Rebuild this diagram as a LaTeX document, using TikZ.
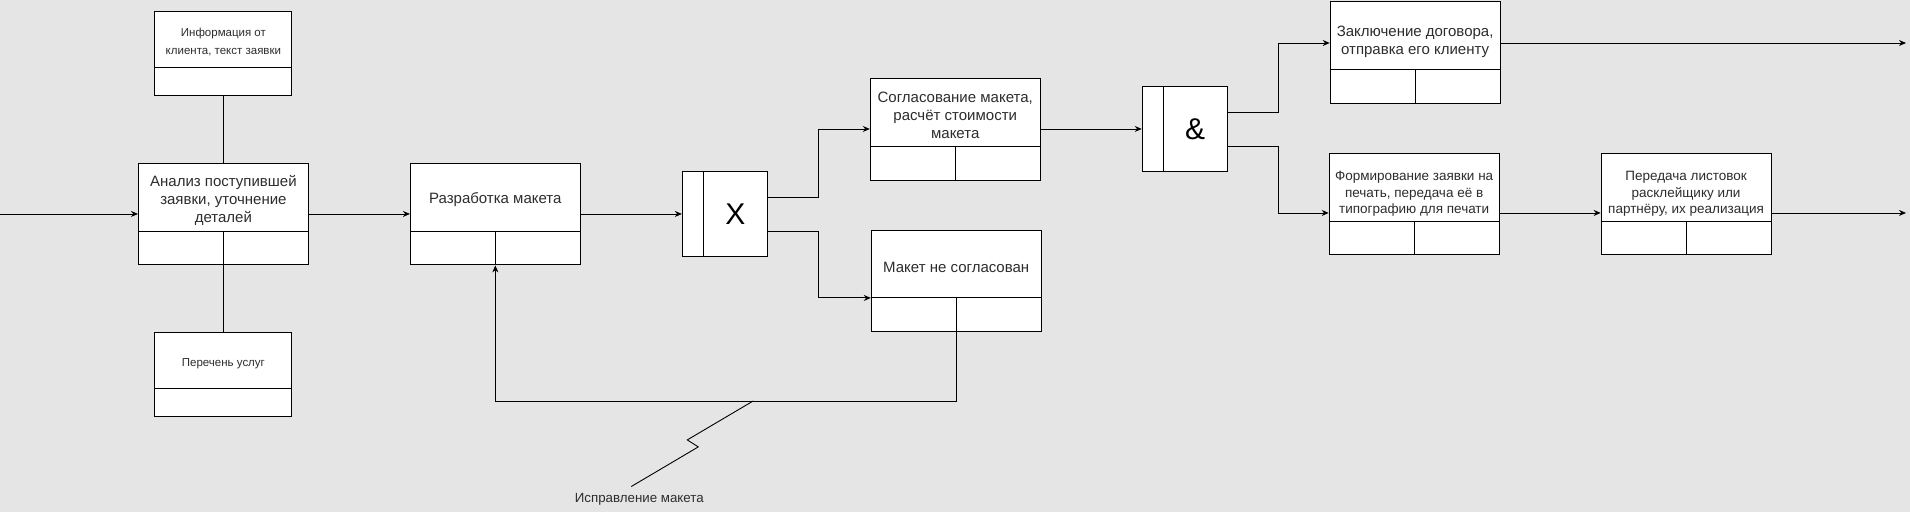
\documentclass[tikz,border=0pt]{standalone}
\usepackage{fontspec}
\setmainfont{Liberation Sans}
\usetikzlibrary{arrows.meta}
\definecolor{fon}{RGB}{229,229,229}
\definecolor{seryj}{RGB}{45,45,45}

\begin{document}
\begin{tikzpicture}[x=1pt,y=-1pt,line width=0.9pt]
\tikzset{blok/.style={draw,fill=white,minimum width=170pt,minimum height=102pt,inner sep=0pt},
  malyj/.style={draw,fill=white,minimum width=137pt,minimum height=84pt,inner sep=0pt},
  nadpis/.style={align=center,inner sep=0pt,text=seryj,font=\fontsize{15}{18}\selectfont},
  krupno/.style={},
  nizhe/.style={yshift=-4pt},
  melko/.style={font=\fontsize{13.5}{16.5}\selectfont,yshift=-4pt},
  vorota/.style={draw,fill=white,minimum width=85pt,minimum height=85pt,inner sep=0pt,font=\fontsize{30}{30}\selectfont,
    path picture={\draw ([xshift=21pt]path picture bounding box.north west) -- ([xshift=21pt]path picture bounding box.south west);}},
  strelka/.style={-{Stealth[length=7pt,width=6pt]}}}
\fill[fon] (0,0) rectangle (1910,512);

\foreach \imya/\x/\y/\stil/\tekst in {
  analiz/223/214/krupno/{Анализ поступившей\\заявки, уточнение\\деталей},
  razrab/495/214/krupno/{Разработка макета},
  sogl/955/129/krupno/{Согласование макета,\\расчёт стоимости\\макета},
  maket/956/281/krupno/{Макет не согласован},
  zakl/1415/52/nizhe/{Заключение договора,\\отправка его клиенту},
  formir/1414/204/melko/{Формирование заявки на\\печать, передача её в\\типографию для печати},
  pered/1686/204/melko/{Передача листовок\\расклейщику или\\партнёру, их реализация}}
{
  \node[blok] (\imya) at (\x,\y) {};
  \node[nadpis,\stil] (\imya-t) at ([yshift=14pt]\imya.center) {\tekst};
  \draw ([yshift=-17pt]\imya.west) -- ([yshift=-17pt]\imya.east)
        ([yshift=-17pt]\imya.center) -- (\imya.south);
}

\node[malyj] (info) at (223,53) {};
\node[nadpis,font=\fontsize{11.5}{18.5}\selectfont] (info-t) at ([yshift=11pt]info.center) {Информация от\\клиента, текст заявки};
\draw ([yshift=-14pt]info.west) -- ([yshift=-14pt]info.east);
\node[malyj] (perech) at (223,375) {};
\node[nadpis,font=\fontsize{11.5}{18.5}\selectfont] (perech-t) at ([yshift=11pt]perech.center) {Перечень услуг};
\draw ([yshift=-14pt]perech.west) -- ([yshift=-14pt]perech.east);

\node[vorota] (xvor) at (724.5,214) {\hspace*{21pt}X};
\node[vorota] (ivor) at (1184.5,129) {\hspace*{21pt}\&};

\coordinate (vhod) at (0,214);
\coordinate (vyhod1) at (1906,43);
\coordinate (vyhod2) at (1906,213);
\draw (info.south) -- (analiz.north);
\draw (analiz.south) -- (perech.north);
\draw[strelka] (vhod) -- (analiz.west);
\draw[strelka] (analiz.east) -- (razrab.west);
\draw[strelka] (razrab.east) -- (xvor.west);
\draw[strelka] ([yshift=17pt]xvor.east) -- ++(51,0) |- (sogl.west);
\draw[strelka] ([yshift=-17pt]xvor.east) -- ++(51,0) |- ([yshift=-17pt]maket.west);
\draw[strelka] (sogl.east) -- (ivor.west);
\draw[strelka] ([yshift=17pt]ivor.east) -- ++(51,0) |- ([yshift=9pt]zakl.west);
\draw[strelka] ([yshift=-17pt]ivor.east) -- ++(51,0) |- ([yshift=-9pt]formir.west);
\draw[strelka] ([yshift=-9pt]formir.east) -- ([yshift=-9pt]pered.west);
\draw[strelka] ([yshift=9pt]zakl.east) -- (vyhod1);
\draw[strelka] ([yshift=-9pt]pered.east) -- (vyhod2);
\draw[strelka] (maket.south) -- ++(0,69) -| (razrab.south);

\coordinate (izlom) at (753,401);
\node[nadpis,font=\fontsize{13.3}{15}\selectfont] (ispr) at (639,499) {Исправление макета};
\draw (izlom) -- ++(-66,39) -- ++(11,7) -- ([xshift=-8pt,yshift=6pt]ispr.north);
\end{tikzpicture}
\end{document}
